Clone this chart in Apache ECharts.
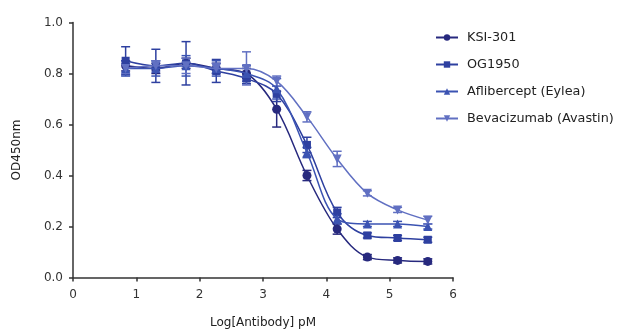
<!DOCTYPE html>
<html><head><meta charset="utf-8">
<script src="https://cdn.jsdelivr.net/npm/echarts@6/dist/echarts.min.js"></script>
<style>html,body{margin:0;padding:0;background:#fff}#c{width:617px;height:329px}</style>
</head><body><div id="c"></div>
<script>
const logConc = [0.831, 1.308, 1.785, 2.262, 2.739, 3.216, 3.694, 4.171, 4.648, 5.125, 5.602];
const seriesNames = ['KSI-301', 'OG1950', 'Aflibercept (Eylea)', 'Bevacizumab (Avastin)'];
const ksiVals = [0.83, 0.82, 0.84, 0.82, 0.80, 0.66, 0.40, 0.19, 0.08, 0.067, 0.063];
const ksiErr  = [0.02, 0.02, 0.02, 0.02, 0.02, 0.07, 0.02, 0.02, 0.01, 0.01, 0.01];
const ogVals  = [0.85, 0.83, 0.84, 0.81, 0.78, 0.72, 0.52, 0.255, 0.165, 0.155, 0.148];
const ogErr   = [0.055, 0.065, 0.085, 0.045, 0.02, 0.03, 0.03, 0.02, 0.01, 0.01, 0.01];
const aflVals = [0.82, 0.82, 0.83, 0.82, 0.80, 0.74, 0.49, 0.23, 0.21, 0.21, 0.20];
const aflErr  = [0.03, 0.03, 0.04, 0.03, 0.03, 0.04, 0.02, 0.02, 0.01, 0.01, 0.01];
const bevVals = [0.82, 0.83, 0.83, 0.82, 0.82, 0.77, 0.63, 0.465, 0.33, 0.265, 0.225];
const bevErr  = [0.02, 0.02, 0.03, 0.02, 0.065, 0.02, 0.02, 0.03, 0.01, 0.01, 0.015];
const xTicks = [0, 1, 2, 3, 4, 5, 6];
const yTicks = [0.0, 0.2, 0.4, 0.6, 0.8, 1.0];

const colors = ['#27297e', '#2e40a0', '#3b53b2', '#6170c2'];
const symbols = ['circle', 'rect', 'triangle', 'triangle'];
const rotates = [0, 0, 0, 180];
const allVals = [ksiVals, ogVals, aflVals, bevVals];
const allErr = [ksiErr, ogErr, aflErr, bevErr];
const FONT = 'DejaVu Sans';

const series = [];
allVals.forEach((vals, i) => {
  series.push({
    name: seriesNames[i] + ' err', type: 'custom', z: 2,
    data: logConc.map((x, j) => [x, vals[j] - allErr[i][j], vals[j] + allErr[i][j]]),
    renderItem: (params, api) => {
      const lo = api.coord([api.value(0), api.value(1)]);
      const hi = api.coord([api.value(0), api.value(2)]);
      const w = 4.5;
      const st = { stroke: colors[i], lineWidth: 1.5 };
      return { type: 'group', children: [
        { type: 'line', shape: { x1: lo[0], y1: lo[1], x2: hi[0], y2: hi[1] }, style: st },
        { type: 'line', shape: { x1: lo[0]-w, y1: lo[1], x2: lo[0]+w, y2: lo[1] }, style: st },
        { type: 'line', shape: { x1: hi[0]-w, y1: hi[1], x2: hi[0]+w, y2: hi[1] }, style: st }
      ]};
    },
    silent: true
  });
});
allVals.forEach((vals, i) => {
  series.push({
    name: seriesNames[i], type: 'line', smooth: 0.35, z: 3 + i,
    data: logConc.map((x, j) => [x, vals[j]]),
    symbol: symbols[i], symbolRotate: rotates[i],
    symbolSize: i === 1 ? 8 : 9,
    lineStyle: { color: colors[i], width: 1.5 },
    itemStyle: { color: colors[i] },
    showAllSymbol: true
  });
});

const chart = echarts.init(document.getElementById('c'), null, { renderer: 'canvas' });
chart.setOption({
  animation: false,
  backgroundColor: '#fff',
  color: colors,
  grid: { left: 73, right: 164, top: 22.5, bottom: 51.5, containLabel: false, outerBoundsMode: 'none' },
  legend: {
    data: seriesNames,
    orient: 'vertical', left: 430, top: 26, itemGap: 14,
    itemWidth: 22, itemHeight: 8,
    textStyle: { fontFamily: FONT, fontSize: 12.8, color: '#222', padding: [0, 0, 0, 4] }
  },
  xAxis: {
    type: 'value', min: xTicks[0], max: xTicks[xTicks.length - 1], interval: 1,
    name: 'Log[Antibody] pM', nameLocation: 'middle', nameGap: 39,
    nameTextStyle: { fontFamily: FONT, fontSize: 12, color: '#222' },
    axisLine: { lineStyle: { color: '#333', width: 1.5 } },
    axisTick: { show: true, length: 4, lineStyle: { color: '#333', width: 1.5 } },
    axisLabel: { fontFamily: FONT, fontSize: 12, color: '#333', margin: 11 },
    splitLine: { show: false }
  },
  yAxis: {
    type: 'value', min: yTicks[0], max: yTicks[yTicks.length - 1], interval: 0.2,
    name: 'OD450nm', nameLocation: 'middle', nameGap: 50, nameRotate: 90,
    nameTextStyle: { fontFamily: FONT, fontSize: 12, color: '#222' },
    axisLine: { show: true, lineStyle: { color: '#333', width: 1.5 } },
    axisTick: { show: true, length: 4, lineStyle: { color: '#333', width: 1.5 } },
    axisLabel: { fontFamily: FONT, fontSize: 12, color: '#333', margin: 10,
      formatter: v => v.toFixed(1) },
    splitLine: { show: false }
  },
  series: series
});
</script></body></html>
